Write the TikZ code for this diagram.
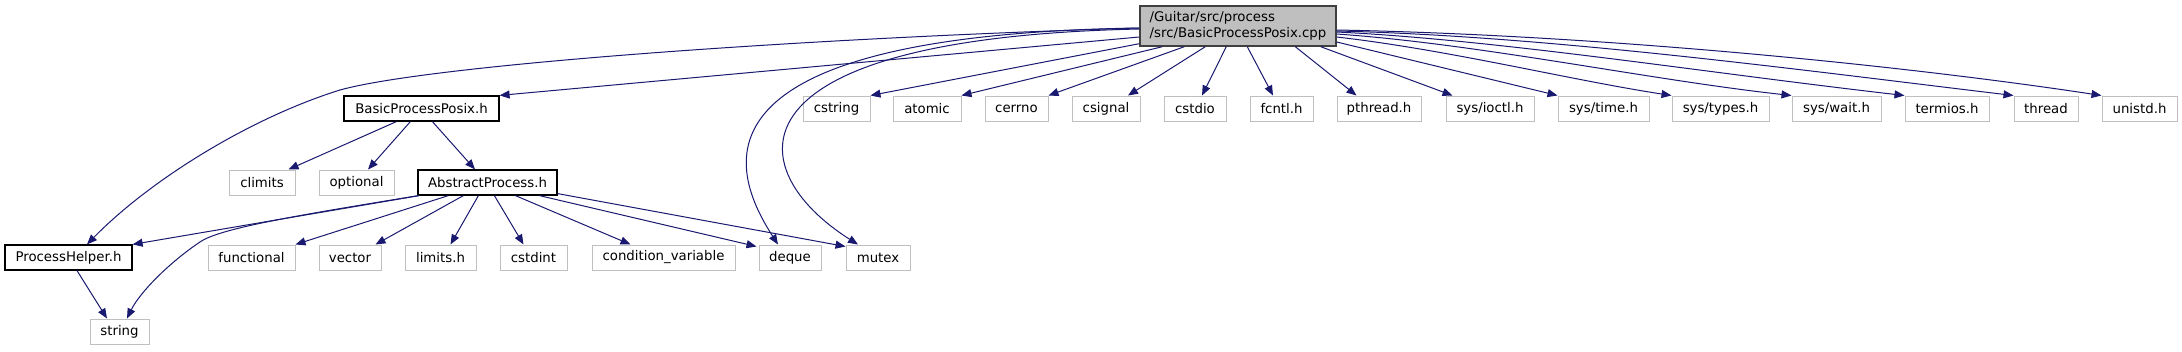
\documentclass[tikz,border=0pt]{standalone}
\usepackage{fontspec}
\setmainfont{DejaVu Sans}
\usetikzlibrary{arrows.meta,calc}
\definecolor{edgecol}{HTML}{191970}
\definecolor{graybd}{HTML}{BFBFBF}
\definecolor{mainfill}{HTML}{BFBFBF}
\definecolor{mainbd}{HTML}{404040}
\begin{document}
\begin{tikzpicture}[x=1pt,y=-1pt,
  every node/.style={font=\fontsize{13.3}{15.5}\selectfont, inner sep=0pt, minimum height=25pt},
  gbox/.style={draw=graybd, line width=1pt},
  bbox/.style={draw=black, line width=1.2pt},
  mbox/.style={draw=mainbd, fill=mainfill, line width=1.4pt, align=left, minimum width=196pt, minimum height=40pt},
  dep/.style={draw=edgecol, line width=1pt, -{Triangle[length=10pt,width=8pt]}}]
\useasboundingbox (0,0) rectangle (2182,351);
% main
\node[mbox] (main) at (1238,26) {/Guitar/src/process\\/src/BasicProcessPosix.cpp};
% row 1
\node[bbox, minimum width=155pt] (bpp) at (421.5,108.5) {BasicProcessPosix.h};
\node[gbox, minimum width=67pt] (cstring) at (836.5,108.5) {cstring};
\node[gbox, minimum width=68pt] (atomic) at (927,108.5) {atomic};
\node[gbox, minimum width=63pt] (cerrno) at (1016.5,108.5) {cerrno};
\node[gbox, minimum width=68pt] (csignal) at (1106,108.5) {csignal};
\node[gbox, minimum width=62pt] (cstdio) at (1195,108.5) {cstdio};
\node[gbox, minimum width=63pt] (fcntl) at (1281.5,108.5) {fcntl.h};
\node[gbox, minimum width=84pt] (pthread) at (1379,108.5) {pthread.h};
\node[gbox, minimum width=88pt] (ioctl) at (1490,108.5) {sys/ioctl.h};
\node[gbox, minimum width=91pt] (stime) at (1603.5,108.5) {sys/time.h};
\node[gbox, minimum width=97pt] (stypes) at (1720.5,108.5) {sys/types.h};
\node[gbox, minimum width=89pt] (swait) at (1836.5,108.5) {sys/wait.h};
\node[gbox, minimum width=84pt] (termios) at (1947,108.5) {termios.h};
\node[gbox, minimum width=64pt] (thread) at (2046,108.5) {thread};
\node[gbox, minimum width=75pt] (unistd) at (2139.5,108.5) {unistd.h};
% row 2
\node[gbox, minimum width=66pt] (climits) at (262,182.5) {climits};
\node[gbox, minimum width=75pt] (optional) at (356.5,182.5) {optional};
\node[bbox, minimum width=139pt] (abs) at (487.5,182.5) {AbstractProcess.h};
% row 3
\node[bbox, minimum width=127pt] (ph) at (68.5,257.5) {ProcessHelper.h};
\node[gbox, minimum width=87pt] (functional) at (251.5,257.5) {functional};
\node[gbox, minimum width=62pt] (vector) at (350,257.5) {vector};
\node[gbox, minimum width=71pt] (limits) at (440.5,257.5) {limits.h};
\node[gbox, minimum width=67pt] (cstdint) at (533.5,257.5) {cstdint};
\node[gbox, minimum width=143pt] (condvar) at (663.5,257.5) {condition\_variable};
\node[gbox, minimum width=62pt] (deque) at (790,257.5) {deque};
\node[gbox, minimum width=64pt] (mutex) at (878,257.5) {mutex};
% row 4
\node[gbox, minimum width=59pt] (string) at (119.5,331.5) {string};

% edges from main
\draw[dep] ($(main.west)+(0,2)$) .. controls (800,38) and (430,65) .. (340,90)
  .. controls (250,118) and (150,180) .. ($(ph.north)+(18.5,0)$);
\draw[dep] ($(main.west)+(0,11)$) -- (bpp.north east);
\draw[dep] ($(main.west)+(0,2)$) .. controls (680,35) and (730,170) .. ($(deque.north)+(-12,0)$);
\draw[dep] ($(main.west)+(0,3)$) .. controls (720,38) and (740,170) .. ($(mutex.north)+(-20,0)$);
\draw[dep] ($(main.south west)+(0,-3)$) -- (cstring.north east);
\draw[dep] ($(main.south west)+(23,0)$) -- (atomic.north east);
\draw[dep] ($(main.south west)+(45,0)$) -- (cerrno.north east);
\draw[dep] ($(main.south west)+(66,0)$) -- ($(csignal.north)+(22,0)$);
\draw[dep] ($(main.south west)+(87,0)$) -- ($(cstdio.north)+(7,0)$);
\draw[dep] ($(main.south west)+(108,0)$) -- ($(fcntl.north)+(-8.5,0)$);
\draw[dep] ($(main.south west)+(156,0)$) -- ($(pthread.north west)+(20,0)$);
\draw[dep] ($(main.south east)+(-16,0)$) -- ($(ioctl.north west)+(7,0)$);
\draw[dep] ($(main.east)+(0,16)$) -- (stime.north west);
\draw[dep] ($(main.east)+(0,11)$) .. controls (1450,50) and (1570,80) .. (stypes.north west);
\draw[dep] ($(main.east)+(0,8)$) .. controls (1480,44) and (1650,80) .. (swait.north west);
\draw[dep] ($(main.east)+(0,6)$) .. controls (1500,40) and (1700,72) .. (termios.north west);
\draw[dep] ($(main.east)+(0,5)$) .. controls (1550,36) and (1800,70) .. (thread.north west);
\draw[dep] ($(main.east)+(0,4)$) .. controls (1600,35) and (1900,65) .. (unistd.north west);

% edges from BasicProcessPosix.h
\draw[dep] ($(bpp.south west)+(53,0)$) -- ($(climits.north east)+(-7,0)$);
\draw[dep] ($(bpp.south west)+(67,0)$) -- ($(optional.north)+(11.5,0)$);
\draw[dep] ($(bpp.south west)+(89,0)$) -- ($(abs.north)+(-12.5,0)$);

% edges from AbstractProcess.h
\draw[dep] ($(abs.south west)+(2,0)$) -- (ph.north east);
\draw[dep] ($(abs.south west)+(1,0)$) .. controls (300,215) and (220,228) .. (200,242)
  .. controls (170,262) and (140,292) .. ($(string.north)+(7.5,0)$);
\draw[dep] ($(abs.south west)+(31,0)$) -- (functional.north east);
\draw[dep] ($(abs.south west)+(46,0)$) -- ($(vector.north east)+(-6,0)$);
\draw[dep] ($(abs.south west)+(61,0)$) -- ($(limits.north)+(10,0)$);
\draw[dep] ($(abs.south west)+(77,0)$) -- ($(cstdint.north)+(-10,0)$);
\draw[dep] ($(abs.south west)+(98,0)$) -- ($(condvar.north)+(-33,0)$);
\draw[dep] ($(abs.south west)+(122,0)$) -- ($(deque.north west)+(-2,2)$);
\draw[dep] ($(abs.south east)+(0,-2)$) -- ($(mutex.north west)+(0,2)$);

% edge from ProcessHelper.h
\draw[dep] ($(ph.south)+(8.5,0)$) -- ($(string.north)+(-12.5,0)$);
\end{tikzpicture}
\end{document}
